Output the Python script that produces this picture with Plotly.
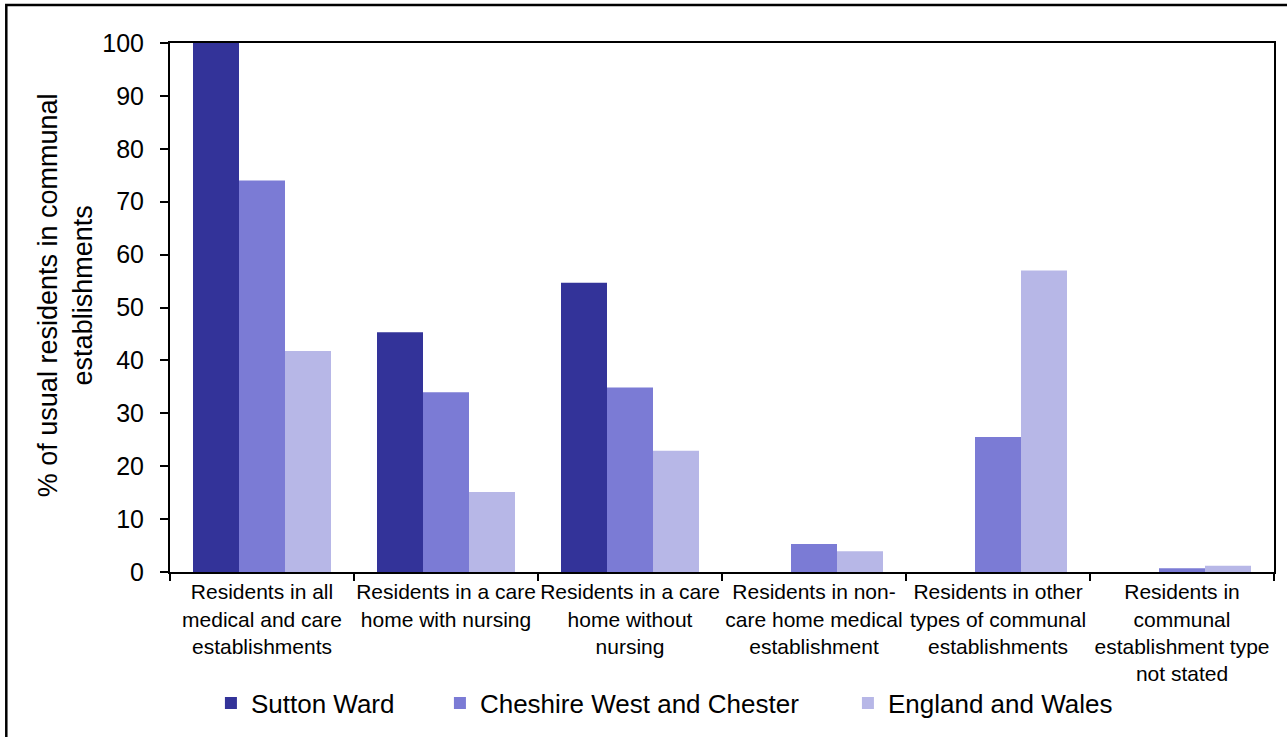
import plotly.graph_objects as go

categories = [
    "Residents in all<br>medical and care<br>establishments",
    "Residents in a care<br>home with nursing",
    "Residents in a care<br>home without<br>nursing",
    "Residents in non-<br>care home medical<br>establishment",
    "Residents in other<br>types of communal<br>establishments",
    "Residents in<br>communal<br>establishment type<br>not stated",
]
sutton_ward = [100.0, 45.3, 54.7, 0.0, 0.0, 0.0]
cheshire_wc = [74.0, 34.0, 34.9, 5.3, 25.5, 0.7]
england_wales = [41.8, 15.1, 22.9, 3.9, 57.0, 1.2]

series_names = ["Sutton Ward", "Cheshire West and Chester", "England and Wales"]
series_colors = ["#333399", "#7B7BD5", "#B7B7E7"]
series_values = [sutton_ward, cheshire_wc, england_wales]
legend_widths = [184, 363, None]

FONT = "Liberation Sans, Arial, sans-serif"

fig = go.Figure()
for name, vals, col, lw in zip(series_names, series_values, series_colors, legend_widths):
    kw = {}
    if lw is not None:
        kw["legendwidth"] = lw
    fig.add_trace(go.Bar(name=name, x=categories, y=vals,
                         marker=dict(color=col, line=dict(width=0)), **kw))

W, H = 1287, 737
L, R, T, B = 170, 11, 43, 165
pw = W - L - R
ph = H - T - B

def px_x(p):
    return (p - L) / pw

def px_y(p):
    return (H - B - p) / ph

fig.update_layout(
    width=W, height=H,
    margin=dict(l=L, r=R, t=T, b=B),
    paper_bgcolor="white", plot_bgcolor="white",
    barmode="group", bargap=0.25, bargroupgap=0,
    font=dict(family=FONT, color="black"),
    showlegend=True,
    legend=dict(orientation="h", x=px_x(211), xanchor="left",
                y=px_y(703), yanchor="middle",
                font=dict(size=26, family=FONT, color="black"),
                traceorder="normal", bgcolor="rgba(0,0,0,0)"),
    xaxis=dict(type="category", showline=True, linecolor="black", linewidth=2,
               mirror=True, ticks="outside", tickson="boundaries", ticklen=7,
               tickcolor="black", tickwidth=2, showgrid=False,
               tickfont=dict(size=21, family=FONT, color="black"), tickangle=0),
    yaxis=dict(range=[0, 100], dtick=10, showline=True, linecolor="black",
               linewidth=2, mirror=True, ticks="outside", ticklen=8,
               tickcolor="black", tickwidth=2, showgrid=False, zeroline=False,
               ticklabelstandoff=11,
               tickfont=dict(size=25, family=FONT, color="black")),
    annotations=[dict(text="% of usual residents in communal<br>establishments",
                      xref="paper", yref="paper", x=px_x(65), y=px_y(295),
                      xanchor="center", yanchor="middle", textangle=-90,
                      showarrow=False,
                      font=dict(size=27, family=FONT, color="black"))],
    shapes=[dict(type="rect", xref="paper", yref="paper",
                 x0=px_x(6), x1=px_x(1292), y0=px_y(745), y1=px_y(5),
                 line=dict(color="black", width=2.5), fillcolor="rgba(0,0,0,0)",
                 layer="above")],
)

fig.write_html("out.html", config={"displayModeBar": False},
               post_script="document.body.style.margin='0';document.body.style.overflow='hidden';")
